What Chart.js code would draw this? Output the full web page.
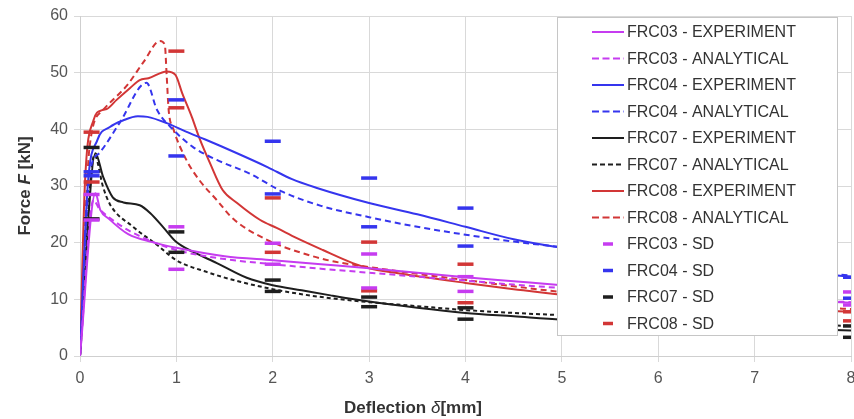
<!DOCTYPE html>
<html>
<head>
<meta charset="utf-8">
<script src="https://cdn.jsdelivr.net/npm/chart.js@4.4.1/dist/chart.umd.min.js"></script>
<style>
  html, body { margin: 0; padding: 0; background: #fff; }
  #wrap { width: 854px; height: 419px; overflow: hidden; position: relative; }
  canvas { display: block; }
</style>
</head>
<body>
<div id="wrap"><canvas id="chart" width="880" height="419"></canvas></div>
<script>
// Curves: deflection [mm] -> force [kN]
const frc03ExpX = [0, 0.16, 0.21, 0.3, 0.5, 0.75, 1, 1.5, 2, 2.5, 3, 3.5, 4, 4.5, 5, 6, 7, 8];
const frc03ExpY = [0, 28.7, 25.8, 24.2, 21.5, 20.1, 19.1, 17.6, 16.9, 16.2, 15.5, 14.7, 13.9, 13.2, 12.5, 11.2, 10.2, 9.4];
const frc03AnaX = [0, 0.14, 0.2, 0.3, 0.5, 0.75, 1, 1.5, 2, 2.5, 3, 3.5, 4, 4.5, 5, 6, 7, 8];
const frc03AnaY = [0, 27.5, 26, 24.5, 22.2, 20.2, 18.7, 17.1, 16.2, 15.4, 14.7, 14, 13.3, 12.6, 12, 11, 10.2, 9.5];

const frc04ExpX = [0, 0.08, 0.18, 0.31, 0.45, 0.6, 0.7, 0.9, 1.1, 1.3, 1.6, 1.95, 2.2, 2.45, 3, 3.5, 4, 4.5, 5, 6, 7, 8];
const frc04ExpY = [0, 30, 38.1, 40.4, 41.6, 42.3, 42.2, 41.1, 39.6, 38.2, 36, 33.3, 31.2, 29.7, 27, 25, 22.8, 20.6, 19.1, 17, 15.3, 14];
const frc04AnaX = [0, 0.1, 0.2, 0.41, 0.69, 0.8, 0.97, 1.17, 1.42, 1.76, 2.1, 2.5, 3, 3.5, 4, 4.5, 5, 6, 7, 8];
const frc04AnaY = [0, 32, 35.8, 41.1, 48.2, 43.4, 39.9, 36.9, 34.6, 32.2, 29, 26.5, 24.5, 22.8, 21.4, 20.2, 19.2, 17.3, 15.6, 14.2];

const frc07ExpX = [0, 0.16, 0.24, 0.34, 0.45, 0.62, 0.73, 0.86, 1, 1.17, 1.42, 1.73, 2, 2.3, 2.6, 3, 3.5, 4, 4.5, 5, 6, 7, 8];
const frc07ExpY = [0, 35.8, 31.6, 28, 27.1, 26.6, 25.2, 22.8, 20.1, 18.4, 16.4, 13.8, 12.5, 11.6, 10.7, 9.6, 8.5, 7.6, 7, 6.4, 5.6, 5, 4.5];
const frc07AnaX = [0, 0.15, 0.24, 0.31, 0.55, 0.8, 1, 1.32, 1.66, 2, 2.3, 2.6, 3, 3.5, 4, 4.5, 5, 6, 7, 8];
const frc07AnaY = [0, 35.5, 29.8, 26.8, 22.8, 19.6, 16.9, 14.8, 13.1, 11.8, 10.9, 10.2, 9.5, 8.8, 8.1, 7.6, 7.2, 6.4, 5.8, 5.3];

const frc08ExpX = [0, 0.05, 0.14, 0.23, 0.28, 0.38, 0.52, 0.62, 0.71, 0.9, 0.99, 1.06, 1.16, 1.24, 1.35, 1.48, 1.63, 1.87, 2.04, 2.25, 2.52, 2.83, 3, 3.3, 4, 4.5, 5, 6, 7, 8];
const frc08ExpY = [0, 30, 41.6, 43.4, 43.6, 45.2, 47.3, 48.7, 49, 50.2, 49.6, 46.4, 42.2, 38.4, 34, 29.3, 27, 24, 22.6, 20.8, 18.7, 16.4, 15.5, 14.6, 12.9, 11.8, 10.8, 9.5, 8.5, 7.8];
const frc08AnaX = [0, 0.1, 0.24, 0.49, 0.66, 0.83, 0.88, 0.9, 0.92, 0.97, 1.11, 1.24, 1.42, 1.59, 1.94, 2.28, 2.6, 3, 3.5, 4, 4.5, 5, 6, 7, 8];
const frc08AnaY = [0, 37, 43.4, 47.8, 51.9, 55.6, 54.9, 49.3, 43.4, 40, 34.4, 31, 27.5, 24.2, 20.5, 18.3, 16.8, 15.7, 14.5, 13.4, 12.3, 11.3, 10, 9, 8.3];

// SD marks (upper / lower) at the test deflections
const sdX = [0.12, 1, 2, 3, 4, 8];
const frc03SdHigh = [28.5, 22.8, 19.9, 18.0, 14.0, 11.3];
const frc03SdLow  = [24.0, 15.3, 16.2, 12.0, 11.4, 9.0];
const frc04SdHigh = [32.5, 45.2, 37.9, 31.4, 26.1, 13.9];
const frc04SdLow  = [31.8, 35.3, 28.6, 22.8, 19.4, 10.2];
const frc07SdHigh = [36.8, 21.9, 13.4, 10.4, 8.5, 5.3];
const frc07SdLow  = [24.2, 18.3, 11.4, 8.7, 6.5, 3.3];
const frc08SdHigh = [39.5, 53.8, 27.9, 20.1, 16.2, 7.8];
const frc08SdLow  = [30.7, 43.8, 18.3, 11.5, 9.4, 6.2];

const xTicksMax = 8;
const yTicksMax = 60;

const MAGENTA = '#c63cf0';
const BLUE = '#3535ee';
const BLACK = '#1e1e1e';
const RED = '#d23636';

const pts = (xs, ys) => xs.map((x, i) => ({ x: x, y: ys[i] }));

function curve(label, xs, ys, color, dash) {
    return {
        label: label,
        data: pts(xs, ys),
        borderColor: color,
        backgroundColor: color,
        borderWidth: 2,
        borderDash: dash || [],
        pointRadius: 0,
        cubicInterpolationMode: 'monotone',
        fill: false,
        order: 1
    };
}

function sd(label, hi, lo, color) {
    return {
        label: label,
        data: pts(sdX, hi).concat(pts(sdX, lo)),
        showLine: false,
        borderColor: color,
        backgroundColor: color,
        pointStyle: 'line',
        pointRadius: 8,
        pointBorderWidth: 3.5,
        pointHoverRadius: 8,
        order: 0
    };
}

const datasets = [
    curve('FRC03 - EXPERIMENT', frc03ExpX, frc03ExpY, MAGENTA),
    curve('FRC03 - ANALYTICAL', frc03AnaX, frc03AnaY, MAGENTA, [6, 4]),
    curve('FRC04 - EXPERIMENT', frc04ExpX, frc04ExpY, BLUE),
    curve('FRC04 - ANALYTICAL', frc04AnaX, frc04AnaY, BLUE, [6, 4]),
    curve('FRC07 - EXPERIMENT', frc07ExpX, frc07ExpY, BLACK),
    curve('FRC07 - ANALYTICAL', frc07AnaX, frc07AnaY, BLACK, [4, 3]),
    curve('FRC08 - EXPERIMENT', frc08ExpX, frc08ExpY, RED),
    curve('FRC08 - ANALYTICAL', frc08AnaX, frc08AnaY, RED, [6, 4]),
    sd('FRC03 - SD', frc03SdHigh, frc03SdLow, MAGENTA),
    sd('FRC04 - SD', frc04SdHigh, frc04SdLow, BLUE),
    sd('FRC07 - SD', frc07SdHigh, frc07SdLow, BLACK),
    sd('FRC08 - SD', frc08SdHigh, frc08SdLow, RED)
];

const FONT = '"Liberation Sans", Arial, Helvetica, sans-serif';

// draws the boxed legend over the plot and the two axis titles
const overlay = {
    id: 'overlay',
    afterDraw(chart) {
        const c = chart.ctx;
        c.save();

        // legend box
        const bx = 557, by = 17, bw = 280, bh = 318;
        c.fillStyle = '#fff';
        c.fillRect(bx, by, bw, bh);
        c.strokeStyle = '#c6c6c6';
        c.lineWidth = 1;
        c.setLineDash([]);
        c.strokeRect(bx + 0.5, by + 0.5, bw, bh);

        c.font = '16px ' + FONT;
        c.textBaseline = 'middle';
        c.textAlign = 'left';
        chart.data.datasets.forEach((ds, i) => {
            const y = 32 + i * 26.5;
            c.strokeStyle = ds.borderColor;
            c.beginPath();
            if (ds.showLine === false) {
                c.lineWidth = 3.5;
                c.setLineDash([]);
                c.moveTo(603, y);
                c.lineTo(613, y);
            } else {
                c.lineWidth = 2;
                c.setLineDash(ds.borderDash.length ? [7, 3.5] : []);
                if (ds.borderDash[0] === 4) c.setLineDash([5, 3]);
                c.moveTo(592, y);
                c.lineTo(624, y);
            }
            c.stroke();
            c.setLineDash([]);
            c.fillStyle = '#333';
            c.fillText(ds.label, 627, y + 1);
        });

        // axis titles with italic symbols
        const drawParts = (parts, cx, cy) => {
            let total = 0;
            parts.forEach(p => { c.font = p[1]; total += c.measureText(p[0]).width; });
            let x = cx - total / 2;
            parts.forEach(p => {
                c.font = p[1];
                c.fillText(p[0], x, cy);
                x += c.measureText(p[0]).width;
            });
        };
        const bold = 'bold 17px ' + FONT;
        const boldIt = 'italic bold 17px ' + FONT;
        const ital = 'italic 17px ' + FONT;
        c.fillStyle = '#333';
        c.textBaseline = 'middle';
        drawParts([['Deflection ', bold], ['\u03B4', ital], ['[mm]', bold]], 413, 408);

        c.translate(25, 186);
        c.rotate(-Math.PI / 2);
        drawParts([['Force ', bold], ['F', boldIt], [' [kN]', bold]], 0, 0);
        c.restore();
    }
};

new Chart(document.getElementById('chart'), {
    type: 'line',
    data: { datasets: datasets },
    options: {
        responsive: false,
        animation: false,
        layout: { padding: { left: 0, right: 29, top: 16, bottom: 0 } },
        plugins: {
            legend: { display: false },
            tooltip: { enabled: false }
        },
        scales: {
            x: {
                type: 'linear',
                min: 0,
                max: xTicksMax,
                ticks: { stepSize: 1, color: '#555', font: { family: FONT, size: 16 }, padding: 7 },
                grid: { color: '#d9d9d9', tickLength: 6 },
                border: { color: '#cfcfcf' },
                afterFit(scale) { scale.height = 63; }
            },
            y: {
                min: 0,
                max: yTicksMax,
                ticks: { stepSize: 10, color: '#555', font: { family: FONT, size: 16 }, padding: 6 },
                grid: { color: '#d9d9d9', tickLength: 6 },
                border: { color: '#cfcfcf' },
                afterFit(scale) { scale.width = 80; }
            }
        }
    },
    plugins: [overlay]
});
</script>
</body>
</html>
